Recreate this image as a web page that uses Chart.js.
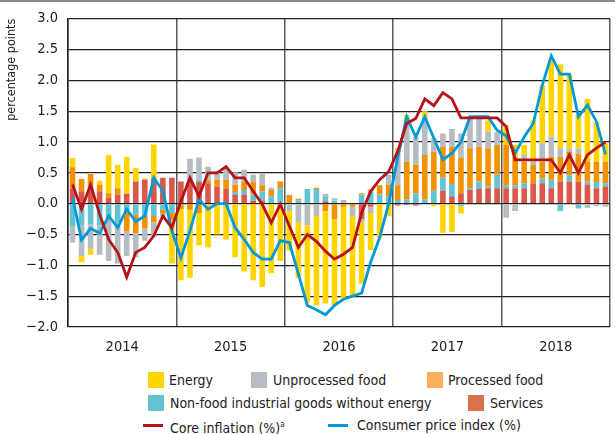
<!DOCTYPE html>
<html>
<head>
<meta charset="utf-8">
<script src="https://cdn.jsdelivr.net/npm/chart.js@4.4.1/dist/chart.umd.min.js"></script>
<style>
  html, body { margin: 0; padding: 0; background: #fff; overflow: hidden; }
  body { width: 615px; height: 434px; position: relative; font-family: "DejaVu Sans Condensed", "Liberation Sans Narrow", "Roboto", sans-serif; }
  #topline { position: absolute; left: 0; top: 0; width: 615px; height: 2px; background: #8a8a8a; }
  #wrap { position: absolute; left: 0; top: 0; width: 622px; height: 370px; }
  .lg { position: absolute; font-size: 14px; color: #222; line-height: 18px; white-space: nowrap; }
  .sq { position: absolute; width: 16px; height: 16px; }
  .ln { position: absolute; width: 20px; height: 3px; }
</style>
</head>
<body>
<div id="topline"></div>
<div id="wrap"><canvas id="chart"></canvas></div>

<div class="sq" style="left:148px;top:372px;background:#ffd500"></div>
<div class="lg" style="left:169px;top:371px">Energy</div>
<div class="sq" style="left:251px;top:372px;background:#b5bcc2"></div>
<div class="lg" style="left:273px;top:371px">Unprocessed food</div>
<div class="sq" style="left:427px;top:372px;background:#f7b15c"></div>
<div class="lg" style="left:448px;top:371px">Processed food</div>

<div class="sq" style="left:148px;top:395px;background:#63c3d3"></div>
<div class="lg" style="left:170px;top:394px">Non-food industrial goods without energy</div>
<div class="sq" style="left:468px;top:395px;background:#d9704e"></div>
<div class="lg" style="left:490px;top:394px">Services</div>

<div class="ln" style="left:143px;top:424px;background:#b5121b"></div>
<div class="lg" style="left:170px;top:416px">Core inflation (%)<sup style="font-size:8px">a</sup></div>
<div class="ln" style="left:328px;top:424px;background:#0099d8"></div>
<div class="lg" style="left:357px;top:416px">Consumer price index (%)</div>

<script>
// months Jan 2014 - Dec 2018
const months = [];
for (let y = 2014; y <= 2018; y++) {
    for (let m = 1; m <= 12; m++) months.push(y + '-' + m);
}
const years = ['2014', '2015', '2016', '2017', '2018'];

// contributions (percentage points)
const services = [
    0.25, 0.2, 0.25, 0.2, 0.1, 0.15, 0.16, 0.36, 0.39, 0.41, 0.42, 0.42,
    0.36, 0.36, 0.35, 0.33, 0.28, 0.24, 0.14, 0.15, 0.05, 0.05, 0, 0,
    0, 0, 0, 0.02, 0.04, 0, 0, 0, -0.25, -0.05, 0, 0,
    -0.03, -0.02, -0.03, 0, 0, 0.21, 0.12, 0.17, 0.22, 0.24, 0.25, 0.25,
    0.25, 0.25, 0.25, 0.33, 0.33, 0.25, 0.36, 0.36, 0.36, 0.31, 0.25, 0.28
];
const nonFood = [
    -0.36, -0.35, -0.33, -0.35, -0.25, -0.3, -0.15, -0.18, -0.2, -0.2, -0.1, -0.15,
    -0.02, 0.05, 0.04, 0, 0, 0, 0.05, 0.07, 0.1, 0.15, 0.12, 0.25,
    0, 0.05, 0.24, 0.22, 0.08, 0.05, 0, 0, 0.15, 0.2, 0.15, 0.1,
    0.06, 0.07, 0.17, 0.07, 0.21, 0.21, 0.2, -0.04, 0.03, 0.12, 0.03, 0.22,
    0.05, 0.05, 0.08, 0, 0.08, 0.14, -0.12, 0.1, -0.08, 0.05, 0.1, 0.05
];
const processedFood = [
    0.34, 0.2, 0.23, 0.11, 0.07, 0.1, -0.3, -0.3, -0.2, -0.1, -0.06, -0.12,
    -0.07, -0.1, -0.15, 0.05, 0.11, 0.15, 0.12, 0.13, 0.2, 0.1, 0.1, 0.11,
    0.14, 0.03, 0, 0.02, -0.12, -0.25, -0.05, -0.05, 0.02, 0.03, 0.15, 0.21,
    0.24, 0.61, 0.46, 0.72, 0.63, 0.5, 0.6, 0.57, 0.65, 0.56, 0.62, 0.48,
    0.65, 0.45, 0.35, 0.3, 0.27, 0.37, 0.4, 0.38, 0.45, 0.32, 0.33, 0.35
];
const unprocessedFood = [
    -0.27, -0.5, -0.4, -0.48, -0.68, -0.67, -0.4, -0.39, -0.2, -0.24, -0.05, 0,
    0, 0.32, 0.36, 0.22, 0.13, 0.19, 0.2, 0.2, 0.12, 0.18, 0.04, -0.02,
    -0.12, -0.3, -0.35, -0.2, 0.04, 0.04, 0.06, -0.15, -0.05, -0.1, 0, 0.16,
    0.55, 0.67, 0.45, 0.62, 0.22, 0.22, 0.29, 0.4, 0.51, 0.49, 0.27, 0.21,
    -0.23, -0.12, 0.11, 0.05, 0.3, 0.33, 0.14, 0.06, 0.08, -0.07, -0.04, -0.05
];
const energy = [
    0.15, -0.1, -0.1, 0.06, 0.62, 0.38, 0.6, 0.22, 0.02, 0.55, 0, -0.7,
    -1.15, -1.1, -0.53, -0.71, -0.5, -0.58, -0.87, -1.1, -1.24, -1.35, -1.13, -0.91,
    -0.64, -0.9, -1.25, -1.45, -1.5, -1.4, -1.48, -1.3, -1.0, -0.6, -0.55, -0.2,
    0.05, 0.09, 0, 0.09, -0.04, -0.47, -0.46, -0.12, 0, 0, 0.18, 0,
    0.32, 0.2, 0.16, 0.67, 0.94, 1.23, 1.36, 1.2, 0.55, 1.02, 0.65, 0.3
];

// rates (%)
const coreInflation = [
    0.31, -0.09, 0.31, -0.17, -0.58, -0.79, -1.19, -0.79, -0.71, -0.52, -0.2, -0.39,
    0.04, 0.42, 0.12, 0.5, 0.5, 0.6, 0.42, 0.42, 0.2, -0.01, -0.31, -0.01,
    -0.36, -0.71, -0.5, -0.61, -0.77, -0.9, -0.82, -0.71, -0.15, 0.2, 0.39, 0.52,
    0.85, 1.3, 1.38, 1.7, 1.59, 1.8, 1.7, 1.39, 1.39, 1.39, 1.39, 1.39,
    1.25, 0.71, 0.71, 0.71, 0.71, 0.71, 0.5, 0.79, 0.5, 0.79, 0.9, 1.0
];
const cpi = [
    0.11, -0.59, -0.4, -0.48, -0.2, -0.39, -0.09, -0.29, -0.2, 0.42, 0.21, -0.44,
    -0.88, -0.44, 0.07, -0.09, 0, 0, -0.39, -0.58, -0.79, -0.9, -0.9, -0.6,
    -0.63, -1.14, -1.65, -1.72, -1.8, -1.65, -1.55, -1.5, -1.45, -0.95, -0.55, 0,
    0.75, 1.41, 1.08, 1.41, 1.06, 0.71, 0.82, 1.0, 1.41, 1.41, 1.41, 1.19,
    1.1, 0.82, 1.08, 1.3, 1.92, 2.4, 2.1, 2.1, 1.41, 1.6, 1.33, 0.8
];

const FONT = '"DejaVu Sans Condensed", "Liberation Sans Narrow", "Roboto", sans-serif';

function barSet(label, data, color) {
    return {
        type: 'bar', label: label, data: data,
        backgroundColor: color, borderWidth: 0,
        barPercentage: 0.62, categoryPercentage: 1,
        stack: 'contrib', order: 2
    };
}
function lineSet(label, data, color) {
    return {
        type: 'line', label: label, data: data,
        borderColor: color, backgroundColor: color, borderWidth: 2.8,
        pointRadius: 0, tension: 0, stack: label, order: 0
    };
}

new Chart(document.getElementById('chart'), {
    data: {
        labels: months,
        datasets: [
            barSet('Services', services, '#d9574b'),
            barSet('Non-food industrial goods without energy', nonFood, '#63c3d3'),
            barSet('Processed food', processedFood, '#f39200'),
            barSet('Unprocessed food', unprocessedFood, '#b5bcc2'),
            barSet('Energy', energy, '#ffd500'),
            lineSet('Core inflation (%)', coreInflation, '#b5121b'),
            lineSet('Consumer price index (%)', cpi, '#0099d8')
        ]
    },
    options: {
        responsive: true,
        maintainAspectRatio: false,
        animation: false,
        layout: { padding: { top: 16, right: 2, left: 0, bottom: 0 } },
        plugins: { legend: { display: false }, tooltip: { enabled: false } },
        scales: {
            x: {
                display: false,
                stacked: true,
                offset: true
            },
            x2: {
                type: 'linear',
                position: 'bottom',
                min: 0,
                max: 60,
                afterFit: s => { s.height = 370 - 327; },
                afterBuildTicks: s => {
                    s.ticks = [];
                    for (let v = 0; v <= 60; v += 6) s.ticks.push({ value: v });
                },
                border: { display: false },
                grid: {
                    drawTicks: false,
                    color: ctx => (ctx.tick && ctx.tick.value % 12 === 0) ? '#5a5a5a' : 'rgba(0,0,0,0)',
                    lineWidth: 1.5
                },
                ticks: {
                    autoSkip: false,
                    maxRotation: 0,
                    padding: 12,
                    color: '#222',
                    font: { family: FONT, size: 14.5 },
                    callback: v => (v % 12 === 6) ? years[(v - 6) / 12] : ''
                }
            },
            y: {
                stacked: true,
                min: -2,
                max: 3,
                afterFit: s => { s.width = 68; },
                border: { display: true, color: '#222', width: 1.5 },
                grid: { color: '#222', lineWidth: 1.2, drawTicks: false },
                ticks: {
                    stepSize: 0.5,
                    padding: 10,
                    color: '#222',
                    font: { family: FONT, size: 14.5 },
                    callback: v => (v < 0 ? '\u2212' : '') + Math.abs(v).toFixed(1)
                },
                title: {
                    display: true,
                    text: 'percentage points',
                    align: 'end',
                    color: '#222',
                    padding: { top: 4, bottom: 0 },
                    font: { family: FONT, size: 12.5 }
                }
            }
        }
    }
});
</script>
</body>
</html>
